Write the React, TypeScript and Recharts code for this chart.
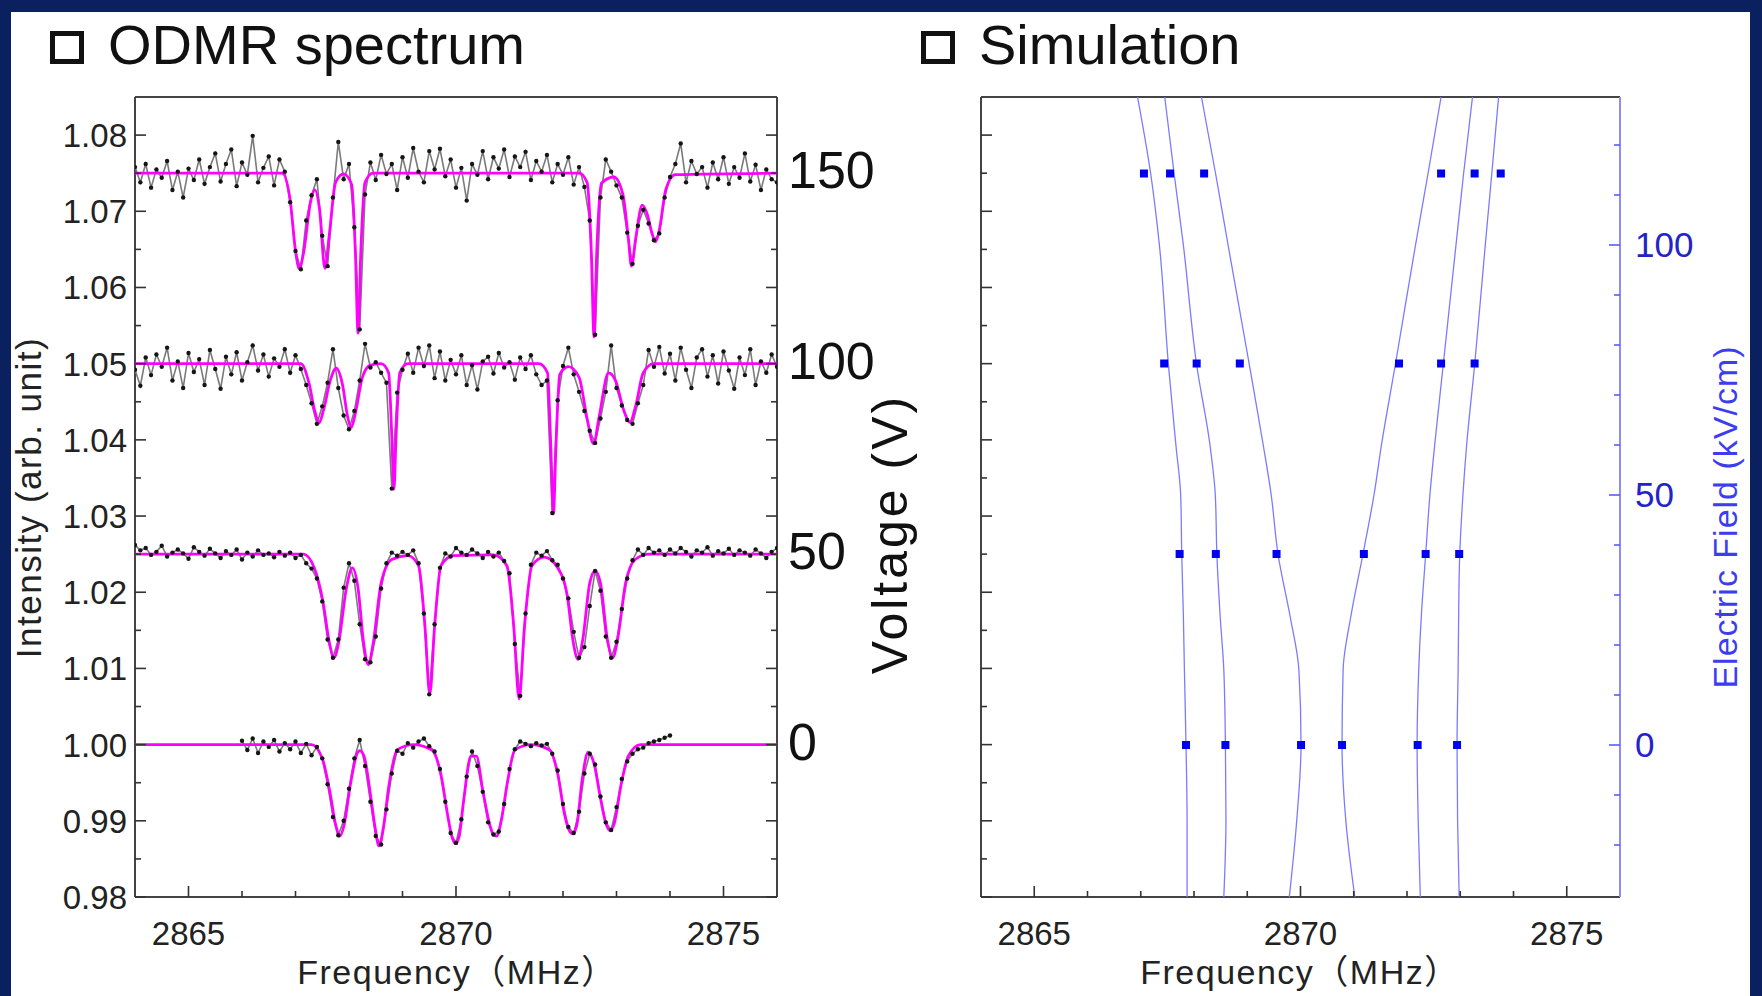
import React from 'react';
import { ComposedChart, Scatter, XAxis, YAxis } from 'recharts';

const FONT = "'Liberation Sans', Arial, 'Noto Sans CJK JP', sans-serif";

// ODMR data, sampled every 0.1 MHz
const FREQ_STEP = 0.1;
const start150 = 2864.0;
const data150 = [
  1.0758, 1.0738, 1.0762, 1.0731, 1.0755, 1.0744, 1.0766, 1.0728, 1.0752, 1.0718,
  1.0756, 1.0741, 1.0768, 1.0736, 1.0758, 1.0776, 1.0739, 1.0762, 1.0781, 1.0733,
  1.0764, 1.0748, 1.0799, 1.0738, 1.0757, 1.0772, 1.0734, 1.0768, 1.0752, 1.0712,
  1.0648, 1.0624, 1.0688, 1.0721, 1.0742, 1.0668, 1.0628, 1.0718, 1.0791, 1.0742,
  1.0762, 1.0679, 1.0545, 1.0722, 1.0764, 1.0741, 1.0774, 1.0749, 1.0762, 1.0728,
  1.0771, 1.0744, 1.0783, 1.0752, 1.0738, 1.0779, 1.0755, 1.0782, 1.0746, 1.0768,
  1.0731, 1.0757, 1.0714, 1.0762, 1.0748, 1.0779, 1.0742, 1.0771, 1.0756, 1.0781,
  1.0745, 1.0772, 1.0758, 1.0778, 1.0741, 1.0766, 1.0752, 1.0774, 1.0738, 1.0762,
  1.0748, 1.0771, 1.0735, 1.0758, 1.0732, 1.0688, 1.0538, 1.0718, 1.0768, 1.0752,
  1.0734, 1.0718, 1.0672, 1.0631, 1.0681, 1.0702, 1.0684, 1.0662, 1.0671, 1.0718,
  1.0745, 1.0762, 1.0789, 1.0738, 1.0766, 1.0749, 1.0758, 1.0731, 1.0764, 1.0742,
  1.0771, 1.0736, 1.0758, 1.0744, 1.0776, 1.0739, 1.0761, 1.0728, 1.0755, 1.0742,
  1.0738,
];

const start100 = 2864.0;
const data100 = [
  1.0492, 1.0471, 1.0508, 1.0485, 1.0512, 1.0496, 1.0521, 1.0478, 1.0503, 1.0468,
  1.0514, 1.0489, 1.0506, 1.0472, 1.0518, 1.0493, 1.0467, 1.0509, 1.0486, 1.0515,
  1.0478, 1.0502, 1.0524, 1.0491, 1.0512, 1.0483, 1.0507, 1.0496, 1.0519, 1.0488,
  1.0511, 1.0493, 1.0472, 1.0448, 1.0421, 1.0444, 1.0475, 1.0519, 1.0468, 1.0432,
  1.0414, 1.0438, 1.0478, 1.0526, 1.0495, 1.0502, 1.0488, 1.0475, 1.0336, 1.0462,
  1.0492, 1.0513, 1.0488, 1.0521, 1.0497, 1.0524, 1.0481, 1.0516, 1.0478, 1.0505,
  1.0486, 1.0511, 1.0472, 1.0498, 1.0466, 1.0503, 1.0509, 1.0487, 1.0514, 1.0495,
  1.0502, 1.0479, 1.0508, 1.0493, 1.0511, 1.0486, 1.0472, 1.0478, 1.0304, 1.0452,
  1.0497, 1.0521, 1.0486, 1.0463, 1.0438, 1.0412, 1.0396, 1.0428, 1.0463, 1.0524,
  1.0468, 1.0445, 1.0426, 1.0421, 1.0448, 1.0472, 1.0518, 1.0496, 1.0522, 1.0487,
  1.0513, 1.0478, 1.0521, 1.0492, 1.0468, 1.0508, 1.0519, 1.0483, 1.0511, 1.0474,
  1.0516, 1.0491, 1.0467, 1.0508, 1.0485, 1.0519, 1.0472, 1.0503, 1.0488, 1.0512,
  1.0496,
];

const start50 = 2864.0;
const data50 = [
  1.0262, 1.0255, 1.0258, 1.0249, 1.0253, 1.0261, 1.0247, 1.0252, 1.0256, 1.0251,
  1.0244, 1.0259, 1.0253, 1.0248, 1.0257, 1.0251, 1.0245, 1.0254, 1.0249, 1.0256,
  1.0243, 1.0252, 1.0247, 1.0255, 1.0249, 1.0251, 1.0246, 1.0253, 1.0248, 1.0252,
  1.0245, 1.0249, 1.0238, 1.0231, 1.0218, 1.0188, 1.0138, 1.0114, 1.0138, 1.0206,
  1.0238, 1.0215, 1.0158, 1.0112, 1.0108, 1.0142, 1.0205, 1.0238, 1.0252, 1.0248,
  1.0253, 1.0249, 1.0255, 1.0238, 1.0172, 1.0066, 1.0158, 1.0232, 1.0251, 1.0247,
  1.0258, 1.0252, 1.0249, 1.0256, 1.0251, 1.0245, 1.0253, 1.0247, 1.0252, 1.0241,
  1.0225, 1.0132, 1.0064, 1.0172, 1.0236, 1.0252, 1.0248, 1.0254, 1.0242, 1.0236,
  1.0218, 1.0192, 1.0148, 1.0114, 1.0128, 1.0182, 1.0228, 1.0202, 1.0142, 1.0114,
  1.0135, 1.0178, 1.0218, 1.0242, 1.0256, 1.0249, 1.0258, 1.0252, 1.0255, 1.0249,
  1.0256, 1.0251, 1.0258, 1.0253, 1.0247, 1.0255, 1.0252, 1.0259, 1.0248, 1.0254,
  1.0251, 1.0257, 1.0249, 1.0255, 1.0252, 1.0248, 1.0256, 1.0251, 1.0245, 1.0253,
  1.0258,
];

const start0 = 2866.0;
const data0 = [
  1.0005, 0.9993, 1.0008, 0.9989, 1.0004, 0.9997, 1.0006, 0.9991, 1.0002, 0.9994,
  1.0004, 0.9989, 1.0001, 0.9986, 0.9997, 0.9982, 0.9948, 0.9905, 0.9881, 0.9900,
  0.9942, 0.9982, 1.0006, 0.9972, 0.9925, 0.9880, 0.9869, 0.9915, 0.9962, 0.9992,
  0.9988, 1.0002, 0.9996, 1.0004, 1.0008, 0.9998, 0.9991, 0.9968, 0.9925, 0.9884,
  0.9871, 0.9902, 0.9958, 0.9991, 0.9972, 0.9938, 0.9898, 0.9882, 0.9886, 0.9922,
  0.9968, 0.9994, 1.0004, 1.0001, 0.9998, 1.0002, 0.9999, 1.0001, 0.9988, 0.9966,
  0.9922, 0.9892, 0.9884, 0.9912, 0.9962, 0.9988, 0.9974, 0.9932, 0.9898, 0.9888,
  0.9918, 0.9955, 0.9978, 0.9988, 0.9994, 0.9996, 1.0002, 1.0004, 1.0006, 1.0009,
  1.0012,
];

// fitted curves [frequency, intensity]
const fit150 = [
  [2864, 1.075], [2866.75, 1.075], [2866.9, 1.0715], [2867.0, 1.0648], [2867.07, 1.0625],
  [2867.15, 1.0645], [2867.28, 1.0712], [2867.36, 1.0728], [2867.45, 1.0702], [2867.55, 1.0625],
  [2867.63, 1.0668], [2867.75, 1.0738], [2867.9, 1.0749], [2868.05, 1.0735], [2868.12, 1.0645],
  [2868.17, 1.054], [2868.22, 1.0645], [2868.3, 1.0738], [2868.45, 1.075], [2872.3, 1.075],
  [2872.45, 1.0738], [2872.53, 1.0645], [2872.58, 1.0535], [2872.63, 1.0645], [2872.72, 1.0737],
  [2872.95, 1.0745], [2873.12, 1.0722], [2873.22, 1.0665], [2873.28, 1.0628], [2873.36, 1.0665],
  [2873.48, 1.0708], [2873.58, 1.0695], [2873.66, 1.0672], [2873.73, 1.066], [2873.8, 1.0675],
  [2873.92, 1.0728], [2874.1, 1.0748], [2876, 1.075],
];

const fit100 = [
  [2864, 1.05], [2867.1, 1.05], [2867.25, 1.0475], [2867.36, 1.0438], [2867.44, 1.0422],
  [2867.52, 1.0438], [2867.65, 1.0478], [2867.76, 1.0494], [2867.88, 1.0472], [2867.97, 1.0432],
  [2868.04, 1.0416], [2868.12, 1.0435], [2868.25, 1.0482], [2868.4, 1.0498], [2868.6, 1.05],
  [2868.74, 1.0488], [2868.8, 1.0405], [2868.84, 1.0335], [2868.88, 1.0405], [2868.95, 1.0488],
  [2869.1, 1.05], [2871.55, 1.05], [2871.71, 1.0488], [2871.77, 1.0395], [2871.82, 1.0303],
  [2871.87, 1.0395], [2871.94, 1.0486], [2872.1, 1.0496], [2872.3, 1.0482], [2872.45, 1.0428],
  [2872.57, 1.0395], [2872.68, 1.0432], [2872.85, 1.0488], [2872.98, 1.0478], [2873.14, 1.0438],
  [2873.25, 1.0423], [2873.36, 1.0445], [2873.5, 1.0488], [2873.7, 1.05], [2876, 1.05],
];

const fit50 = [
  [2864, 1.025], [2867.15, 1.025], [2867.35, 1.0232], [2867.52, 1.0185], [2867.63, 1.0135],
  [2867.72, 1.0114], [2867.81, 1.0135], [2867.95, 1.0205], [2868.06, 1.0232], [2868.17, 1.0205],
  [2868.27, 1.0135], [2868.36, 1.0105], [2868.45, 1.0132], [2868.6, 1.0212], [2868.8, 1.0243],
  [2869.1, 1.0248], [2869.3, 1.0235], [2869.42, 1.0155], [2869.51, 1.0066], [2869.6, 1.0155],
  [2869.72, 1.0235], [2869.95, 1.0248], [2870.7, 1.0249], [2870.95, 1.0235], [2871.08, 1.0155],
  [2871.18, 1.006], [2871.28, 1.0155], [2871.42, 1.0235], [2871.65, 1.0246], [2871.9, 1.0232],
  [2872.08, 1.0195], [2872.19, 1.0135], [2872.28, 1.0112], [2872.37, 1.0138], [2872.5, 1.0212],
  [2872.6, 1.0228], [2872.7, 1.0212], [2872.83, 1.0138], [2872.93, 1.0114], [2873.02, 1.0138],
  [2873.17, 1.0212], [2873.35, 1.0243], [2873.6, 1.025], [2876, 1.025],
];

const fit0 = [
  [2864, 1.0], [2867.3, 1.0], [2867.5, 0.9982], [2867.65, 0.9935], [2867.75, 0.9895],
  [2867.83, 0.988], [2867.91, 0.9895], [2868.02, 0.9945], [2868.15, 0.9988], [2868.2, 0.9992],
  [2868.28, 0.9985], [2868.4, 0.9935], [2868.49, 0.989], [2868.56, 0.9867], [2868.64, 0.989],
  [2868.75, 0.9948], [2868.9, 0.9993], [2869.2, 1.0], [2869.55, 0.9993], [2869.72, 0.996],
  [2869.85, 0.9905], [2869.92, 0.988], [2869.99, 0.987], [2870.06, 0.988], [2870.14, 0.9925],
  [2870.28, 0.9985], [2870.38, 0.9985], [2870.5, 0.994], [2870.62, 0.9898], [2870.69, 0.9883],
  [2870.76, 0.988], [2870.84, 0.9898], [2870.96, 0.995], [2871.1, 0.9993], [2871.4, 1.0],
  [2871.75, 0.9993], [2871.9, 0.9962], [2872.03, 0.9908], [2872.1, 0.989], [2872.18, 0.9883],
  [2872.26, 0.9895], [2872.36, 0.9955], [2872.47, 0.999], [2872.58, 0.9975], [2872.7, 0.993],
  [2872.8, 0.9897], [2872.88, 0.9887], [2872.96, 0.9897], [2873.08, 0.9945], [2873.22, 0.9985],
  [2873.45, 1.0], [2876, 1.0],
];

// simulation: [frequency, electric field kV/cm]
const simCurve1 = [[2866.94, 129.6], [2867.19, 114], [2867.35, 100], [2867.52, 76], [2867.66, 60], [2867.75, 50], [2867.77, 38], [2867.8, 26], [2867.82, 15], [2867.85, 0], [2867.87, -15], [2867.87, -30.4]];
const simCurve2 = [[2867.45, 129.6], [2867.63, 114], [2867.8, 100], [2868.05, 76], [2868.3, 60], [2868.4, 50], [2868.43, 38], [2868.49, 26], [2868.56, 15], [2868.59, 0], [2868.6, -15], [2868.56, -30.4]];
const simCurve3 = [[2868.14, 129.6], [2868.41, 114], [2868.64, 100], [2869.04, 76], [2869.3, 60], [2869.45, 50], [2869.58, 38], [2869.8, 26], [2869.97, 15], [2870.01, 0], [2869.93, -15], [2869.79, -30.4]];
const simCurve4 = [[2872.64, 129.6], [2872.39, 114], [2872.16, 100], [2871.78, 76], [2871.52, 60], [2871.38, 50], [2871.17, 38], [2870.95, 26], [2870.8, 15], [2870.78, 0], [2870.85, -15], [2871.02, -30.4]];
const simCurve5 = [[2873.23, 129.6], [2873.06, 114], [2872.92, 100], [2872.68, 76], [2872.52, 60], [2872.43, 50], [2872.35, 38], [2872.27, 26], [2872.22, 15], [2872.19, 0], [2872.21, -15], [2872.25, -30.4]];
const simCurve6 = [[2873.72, 129.6], [2873.59, 114], [2873.47, 100], [2873.27, 76], [2873.12, 60], [2873.05, 50], [2872.99, 38], [2872.97, 26], [2872.96, 15], [2872.94, 0], [2872.95, -15], [2872.98, -30.4]];

// measured dip positions at each applied field
const markerFields = [0, 38.2, 76.3, 114.3];
const markerFreqs = [
  [2867.85, 2868.59, 2870.01, 2870.78, 2872.2, 2872.94],
  [2867.73, 2868.41, 2869.55, 2871.19, 2872.35, 2872.98],
  [2867.44, 2868.05, 2868.86, 2871.85, 2872.64, 2873.27],
  [2867.06, 2867.55, 2868.19, 2872.64, 2873.27, 2873.76],
];

// axes
const freqDomain = [2864, 2876];
const freqTicks = [2865, 2866, 2867, 2868, 2869, 2870, 2871, 2872, 2873, 2874, 2875];
const intensityDomain = [0.98, 1.085];
const intensityTicks = [0.98, 0.985, 0.99, 0.995, 1.0, 1.005, 1.01, 1.015, 1.02, 1.025, 1.03, 1.035, 1.04, 1.045, 1.05, 1.055, 1.06, 1.065, 1.07, 1.075, 1.08];
const voltageLevels = [1.0, 1.025, 1.05, 1.075];
const voltageLabels = ['0', '50', '100', '150'];
const fieldDomain = [-30.4, 129.6];
const fieldTicks = [-20, -10, 0, 10, 20, 30, 40, 50, 60, 70, 80, 90, 100, 110, 120];

const gridPoints = (vals: number[], start: number) =>
  vals.map((v, i) => ({ f: +(start + i * FREQ_STEP).toFixed(2), v }));
const pairPoints = (rows: number[][]) => rows.map(([f, v]) => ({ f, v }));
const curvePoints = (rows: number[][]) => rows.map(([f, e]) => ({ f, e }));

const spectra = [
  { data: gridPoints(data150, start150), fit: pairPoints(fit150) },
  { data: gridPoints(data100, start100), fit: pairPoints(fit100) },
  { data: gridPoints(data50, start50), fit: pairPoints(fit50) },
  { data: gridPoints(data0, start0), fit: pairPoints(fit0) },
];
const simCurves = [simCurve1, simCurve2, simCurve3, simCurve4, simCurve5, simCurve6].map(curvePoints);
const markers = markerFields.flatMap((e, i) => markerFreqs[i].map((f) => ({ f, e })));

const isIntMajor = (v: number) => Math.round(v * 1000) % 10 === 0;
const isFreqMajor = (v: number) => Math.round(v) % 5 === 0;
const isFieldMajor = (v: number) => Math.round(v) % 50 === 0;

type TickSpec = {
  side: 'left' | 'right' | 'top' | 'bottom';
  isMajor: (v: number) => boolean;
  label?: (v: number) => string | null;
  stroke?: string;
  textFill?: string;
  fontSize?: number;
  dx?: number;
  dy?: number;
};

// ticks point into the plot, labels sit outside
const makeTick = (s: TickSpec) => (props: any) => {
  const { x, y, payload } = props;
  const v = payload.value;
  const len = s.isMajor(v) ? 11 : 6;
  const d = s.side === 'left' ? [len, 0] : s.side === 'right' ? [-len, 0] : s.side === 'bottom' ? [0, -len] : [0, len];
  const text = s.label ? s.label(v) : null;
  let tx = x;
  let ty = y;
  let anchor: any = 'middle';
  if (s.side === 'left') { tx = x - (s.dx ?? 8); ty = y + (s.dy ?? 12); anchor = 'end'; }
  if (s.side === 'right') { tx = x + (s.dx ?? 13); ty = y + (s.dy ?? 12); anchor = 'start'; }
  if (s.side === 'bottom') { ty = y + (s.dy ?? 48); }
  return (
    <g>
      <line x1={x} y1={y} x2={x + d[0]} y2={y + d[1]} stroke={s.stroke ?? '#333'} strokeWidth={1.6} />
      {text != null && (
        <text x={tx} y={ty} textAnchor={anchor} fontSize={s.fontSize ?? 33} fill={s.textFill ?? '#222'} fontFamily={FONT}>
          {text}
        </text>
      )}
    </g>
  );
};

const frame = { stroke: '#444', strokeWidth: 2 };
const hidden = () => <g />;
const dot = (p: any) => <circle cx={p.cx} cy={p.cy} r={2.2} fill="#151515" />;
const square = (p: any) => <rect x={p.cx - 4} y={p.cy - 4} width={8} height={8} fill="#0000f0" />;

const freqLabel = (v: number) => (isFreqMajor(v) ? String(v) : null);
const intLabel = (v: number) => (isIntMajor(v) ? v.toFixed(2) : null);
const voltLabel = (v: number) => {
  const i = voltageLevels.findIndex((l) => Math.abs(l - v) < 1e-6);
  return i >= 0 ? voltageLabels[i] : null;
};
const fieldLabel = (v: number) => (isFieldMajor(v) ? String(v) : null);

function Title({ left, text }: { left: number; text: string }) {
  return (
    <>
      <div style={{ position: 'absolute', left, top: 31, width: 34, height: 33, border: '5px solid #111', boxSizing: 'border-box' }} />
      <div style={{ position: 'absolute', left: left + 58, top: 17, fontSize: 56, lineHeight: '56px', color: '#111', whiteSpace: 'nowrap' }}>{text}</div>
    </>
  );
}

function VText({ cx, cy, text, size, color, spacing }: { cx: number; cy: number; text: string; size: number; color: string; spacing?: number }) {
  const w = 500;
  const h = size + 6;
  return (
    <div style={{ position: 'absolute', left: cx - w / 2, top: cy - h / 2, width: w, height: h, lineHeight: `${h}px`, textAlign: 'center', fontSize: size, color, letterSpacing: spacing ?? 0, transform: 'rotate(-90deg)', whiteSpace: 'nowrap' }}>
      {text}
    </div>
  );
}

function HText({ cx, top, text, size, spacing }: { cx: number; top: number; text: string; size: number; spacing?: number }) {
  return (
    <div style={{ position: 'absolute', left: cx - 250, top, width: 500, textAlign: 'center', fontSize: size, lineHeight: `${size}px`, color: '#222', letterSpacing: spacing ?? 0, whiteSpace: 'nowrap' }}>
      {text}
    </div>
  );
}

export default function App() {
  return (
    <div style={{ position: 'absolute', left: 0, top: 0, width: 1762, height: 996, background: '#0b205e', overflow: 'hidden', fontFamily: FONT }}>
      <div style={{ position: 'absolute', left: 11, top: 12, width: 1739, height: 984, background: '#fff' }} />
      <Title left={50} text="ODMR spectrum" />
      <Title left={921} text="Simulation" />

      <div style={{ position: 'absolute', left: 0, top: 0 }}>
        <ComposedChart width={900} height={996} margin={{ top: 96, right: 122, bottom: 98, left: 134 }}>
          <XAxis dataKey="f" type="number" domain={freqDomain} allowDataOverflow ticks={freqTicks} interval={0} height={1} tickSize={0} tickMargin={0} tickLine={false} axisLine={frame} tick={makeTick({ side: 'bottom', isMajor: isFreqMajor, label: freqLabel })} />
          <XAxis xAxisId="top" orientation="top" type="number" domain={freqDomain} allowDataOverflow ticks={freqTicks} interval={0} height={1} tickSize={0} tickMargin={0} tickLine={false} axisLine={frame} tick={makeTick({ side: 'top', isMajor: isFreqMajor })} />
          <YAxis dataKey="v" type="number" domain={intensityDomain} allowDataOverflow ticks={intensityTicks} interval={0} width={1} tickSize={0} tickMargin={0} tickLine={false} axisLine={frame} tick={makeTick({ side: 'left', isMajor: isIntMajor, label: intLabel })} />
          <YAxis yAxisId="volt" orientation="right" type="number" domain={intensityDomain} allowDataOverflow ticks={intensityTicks} interval={0} width={1} tickSize={0} tickMargin={0} tickLine={false} axisLine={frame} tick={makeTick({ side: 'right', isMajor: isIntMajor, label: voltLabel, fontSize: 52, textFill: '#111', dx: 11, dy: 15 })} />
          {spectra.map((s, i) => (
            <Scatter key={`d${i}`} data={s.data} fill="#7a7a7a" line={{ stroke: '#7a7a7a', strokeWidth: 1.6 }} lineJointType="linear" shape={hidden} isAnimationActive={false} />
          ))}
          {spectra.map((s, i) => (
            <Scatter key={`f${i}`} data={s.fit} fill="#ff00ff" line={{ stroke: '#ff00ff', strokeWidth: 2.8 }} lineJointType="monotoneX" shape={hidden} isAnimationActive={false} />
          ))}
          {spectra.map((s, i) => (
            <Scatter key={`p${i}`} data={s.data} fill="#151515" shape={dot} isAnimationActive={false} />
          ))}
        </ComposedChart>
      </div>

      <div style={{ position: 'absolute', left: 880, top: 0 }}>
        <ComposedChart width={882} height={996} margin={{ top: 96, right: 141, bottom: 98, left: 100 }}>
          <XAxis dataKey="f" type="number" domain={freqDomain} allowDataOverflow ticks={freqTicks} interval={0} height={1} tickSize={0} tickMargin={0} tickLine={false} axisLine={frame} tick={makeTick({ side: 'bottom', isMajor: isFreqMajor, label: freqLabel })} />
          <XAxis xAxisId="top" orientation="top" type="number" domain={freqDomain} allowDataOverflow ticks={freqTicks} interval={0} height={1} tickSize={0} tickMargin={0} tickLine={false} axisLine={frame} tick={makeTick({ side: 'top', isMajor: isFreqMajor })} />
          <YAxis yAxisId="int" type="number" domain={intensityDomain} allowDataOverflow ticks={intensityTicks} interval={0} width={1} tickSize={0} tickMargin={0} tickLine={false} axisLine={frame} tick={makeTick({ side: 'left', isMajor: isIntMajor })} />
          <YAxis yAxisId="e" dataKey="e" orientation="right" type="number" domain={fieldDomain} allowDataOverflow ticks={fieldTicks} interval={0} width={1} tickSize={0} tickMargin={0} tickLine={false} axisLine={{ stroke: '#8c8cff', strokeWidth: 2 }} tick={makeTick({ side: 'right', isMajor: isFieldMajor, label: fieldLabel, stroke: '#5a5aff', textFill: '#2323c8', fontSize: 35, dx: 15 })} />
          {simCurves.map((c, i) => (
            <Scatter key={`c${i}`} yAxisId="e" data={c} fill="#7b7bff" line={{ stroke: '#7b7bff', strokeWidth: 1.3 }} lineJointType="monotoneY" shape={hidden} isAnimationActive={false} />
          ))}
          <Scatter yAxisId="e" data={markers} fill="#0000f0" shape={square} isAnimationActive={false} />
        </ComposedChart>
      </div>

      <VText cx={28} cy={497} text="Intensity (arb. unit)" size={35} color="#222" spacing={1.5} />
      <VText cx={890} cy={534} text="Voltage (V)" size={50} color="#111" spacing={3} />
      <VText cx={1725} cy={517} text="Electric Field (kV/cm)" size={34} color="#3c3cf0" spacing={1} />
      <HText cx={457} top={955} text="Frequency（MHz）" size={34} spacing={1.5} />
      <HText cx={1300} top={955} text="Frequency（MHz）" size={34} spacing={1.5} />
    </div>
  );
}
